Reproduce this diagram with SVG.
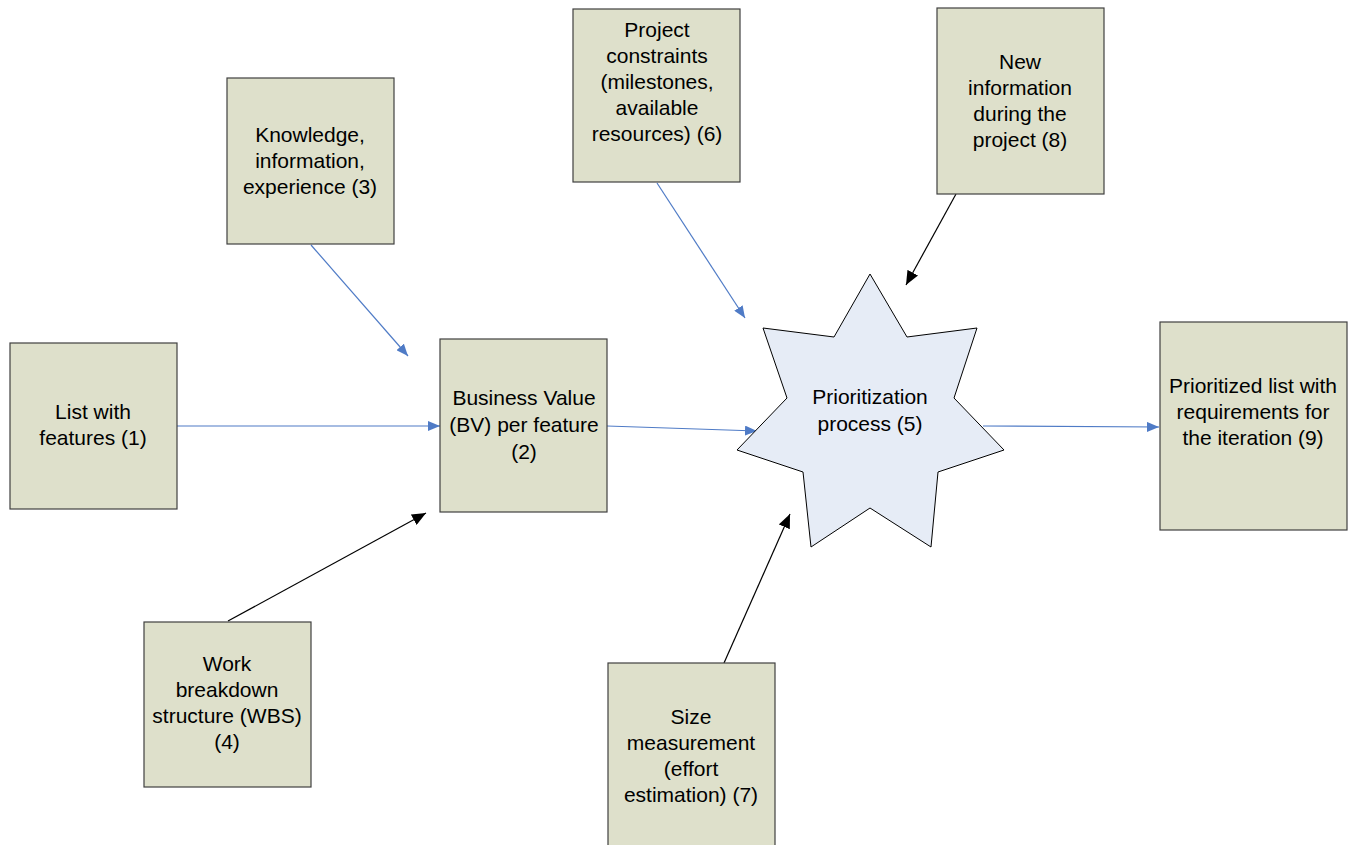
<svg xmlns="http://www.w3.org/2000/svg" width="1350" height="845" viewBox="0 0 1350 845">
<defs>
<style>
.box{fill:#DEE0CB;stroke:#404040;stroke-width:1.2}
.star{fill:#E6ECF6;stroke:#000;stroke-width:1}
.t{font-family:"Liberation Sans",Arial,sans-serif;font-size:21px;fill:#000;text-anchor:middle}
.blue{stroke:#4F7BC6;stroke-width:1.2;fill:none}
.black{stroke:#000;stroke-width:1.2;fill:none}
</style>
<marker id="ab" viewBox="0 0 12 10" refX="12" refY="5" markerWidth="12" markerHeight="10" markerUnits="userSpaceOnUse" orient="auto">
<path d="M0,0 L12,5 L0,10 Z" fill="#4F7BC6"/>
</marker>
<marker id="ak" viewBox="0 0 14 12" refX="14" refY="6" markerWidth="14" markerHeight="12" markerUnits="userSpaceOnUse" orient="auto">
<path d="M0,0 L14,6 L0,12 Z" fill="#000"/>
</marker>
</defs>
<rect width="1350" height="845" fill="#fff"/>
<g id="connectors">
<line class="blue" x1="177" y1="426" x2="440" y2="426" marker-end="url(#ab)"/>
<line class="blue" x1="311" y1="245" x2="408" y2="356" marker-end="url(#ab)"/>
<line class="blue" x1="607" y1="426" x2="757" y2="431" marker-end="url(#ab)"/>
<line class="blue" x1="657" y1="183" x2="745" y2="318" marker-end="url(#ab)"/>
<line class="blue" x1="983" y1="426" x2="1159" y2="427" marker-end="url(#ab)"/>
<line class="black" x1="228" y1="621" x2="426" y2="513" marker-end="url(#ak)"/>
<line class="black" x1="724" y1="663" x2="790" y2="514" marker-end="url(#ak)"/>
<line class="black" x1="956" y1="194" x2="906" y2="285" marker-end="url(#ak)"/>
</g>
<g id="n1"><rect class="box" x="10" y="343" width="167" height="166"/>
<text class="t" x="93" y="419">List with</text><text class="t" x="93" y="445">features (1)</text></g>
<g id="n2"><rect class="box" x="440" y="339" width="167" height="173"/>
<text class="t" x="524" y="405">Business Value</text><text class="t" x="524" y="432">(BV) per feature</text><text class="t" x="524" y="459">(2)</text></g>
<g id="n3"><rect class="box" x="227" y="78" width="167" height="166"/>
<text class="t" x="310" y="142">Knowledge,</text><text class="t" x="310" y="168">information,</text><text class="t" x="310" y="194">experience (3)</text></g>
<g id="n4"><rect class="box" x="144" y="622" width="167" height="165"/>
<text class="t" x="227" y="671">Work</text><text class="t" x="227" y="697">breakdown</text><text class="t" x="227" y="723">structure (WBS)</text><text class="t" x="227" y="749">(4)</text></g>
<g id="n5"><path class="star" d="M870,274 L834,337 L763,328 L787,398 L737,450 L803,472 L811,547 L870,508 L931,547 L938,472 L1004,450 L954,398 L977,328 L907,337 Z"/>
<text class="t" x="870" y="404">Prioritization</text><text class="t" x="870" y="431">process (5)</text></g>
<g id="n6"><rect class="box" x="573" y="9" width="167" height="173"/>
<text class="t" x="657" y="37">Project</text><text class="t" x="657" y="63">constraints</text><text class="t" x="657" y="89">(milestones,</text><text class="t" x="657" y="115">available</text><text class="t" x="657" y="141">resources) (6)</text></g>
<g id="n7"><rect class="box" x="608" y="663" width="167" height="190"/>
<text class="t" x="691" y="724">Size</text><text class="t" x="691" y="750">measurement</text><text class="t" x="691" y="776">(effort</text><text class="t" x="691" y="802">estimation) (7)</text></g>
<g id="n8"><rect class="box" x="937" y="8" width="167" height="186"/>
<text class="t" x="1020" y="69">New</text><text class="t" x="1020" y="95">information</text><text class="t" x="1020" y="121">during the</text><text class="t" x="1020" y="147">project (8)</text></g>
<g id="n9"><rect class="box" x="1160" y="322" width="187" height="208"/>
<text class="t" x="1253" y="393">Prioritized list with</text><text class="t" x="1253" y="419">requirements for</text><text class="t" x="1253" y="445">the iteration (9)</text></g>
</svg>
